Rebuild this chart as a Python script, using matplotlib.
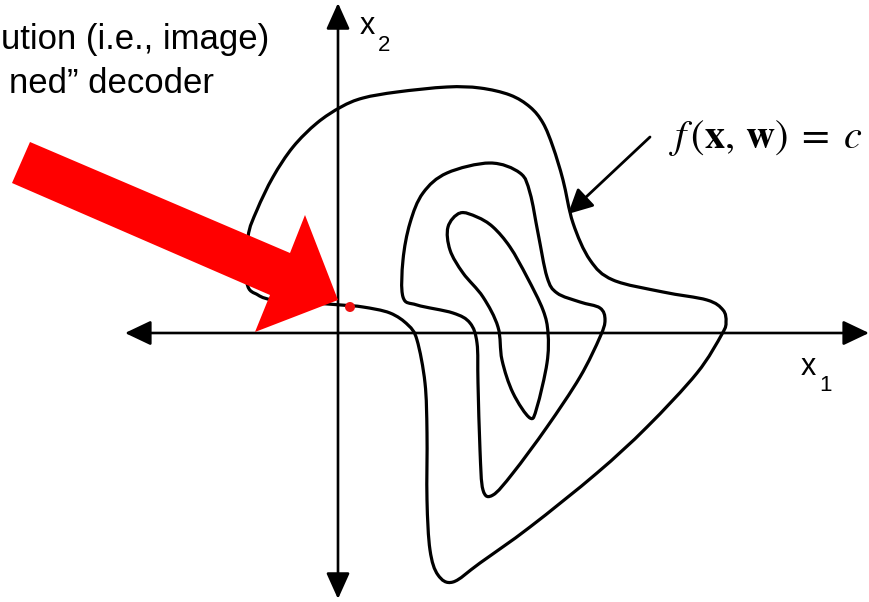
import numpy as np
import matplotlib
matplotlib.use("Agg")
import matplotlib.pyplot as plt
from matplotlib.path import Path
from matplotlib.patches import PathPatch, Polygon, Circle

# ---- diagram geometry (canvas pixel coordinates, y downward) ----
outer_x = [248, 257, 273, 293, 317, 341, 363, 397, 447, 480, 510, 530, 543, 553, 563, 573,
           590, 613, 663, 707, 723, 726, 722, 697, 647, 597, 530, 480, 453, 438, 430, 427,
           427, 425, 417, 408, 390, 363, 341, 300, 273, 258, 247]
outer_y = [237, 210, 177, 147, 123, 107, 98, 92, 87, 88, 95, 107, 123, 147, 180, 223,
           260, 280, 292, 300, 310, 322, 334, 373, 427, 473, 527, 563, 582, 575, 550, 500,
           433, 383, 340, 325, 313, 307, 305, 302, 300, 295, 283]

middle_x = [490, 520, 530, 538, 547, 557, 580, 600, 605, 600, 580, 547, 513, 493, 483, 480,
            478, 477, 470, 453, 417, 403, 403, 410, 423, 447]
middle_y = [163, 173, 193, 233, 277, 293, 302, 308, 320, 337, 377, 427, 473, 495, 490, 450,
            383, 343, 323, 313, 305, 297, 260, 223, 193, 173]

inner_x = [460, 477, 493, 510, 527, 543, 548, 547, 537, 530, 513, 502, 498, 483, 463, 450, 448]
inner_y = [213, 217, 227, 247, 277, 310, 333, 363, 407, 418, 393, 360, 327, 297, 273, 250, 227]

red_arrow_x = [30, 290, 305, 338, 255, 270, 12]
red_arrow_y = [142, 253, 215, 300, 332, 295, 183]

point_xy = (350, 307)

label_line1 = "ution (i.e., image)"
label_line2 = "ned\u201d decoder"
formula = r"$f\,(\mathbf{x},\,\mathbf{w})\;=\;c$"


def closed_smooth_path(xs, ys):
    P = np.column_stack([xs, ys]).astype(float)
    n = len(P)
    verts = [P[0]]
    codes = [Path.MOVETO]
    for i in range(n):
        p0, p1, p2, p3 = P[i - 1], P[i], P[(i + 1) % n], P[(i + 2) % n]
        c1 = p1 + (p2 - p0) / 6.0
        c2 = p2 - (p3 - p1) / 6.0
        verts += [c1, c2, p2]
        codes += [Path.CURVE4] * 3
    return Path(verts, codes)


fig = plt.figure(figsize=(8.7, 6.02), dpi=100)
ax = fig.add_axes([0, 0, 1, 1])
ax.set_xlim(0, 870)
ax.set_ylim(602, 0)
ax.axis("off")

# coordinate axes with arrowheads
ax.annotate("", xy=(869, 333), xytext=(125, 333),
            arrowprops=dict(arrowstyle="<|-|>,head_length=0.8,head_width=0.38",
                            mutation_scale=20, lw=1.9, color="black",
                            shrinkA=0, shrinkB=0))
ax.annotate("", xy=(338, 3), xytext=(338, 599),
            arrowprops=dict(arrowstyle="<|-|>,head_length=0.8,head_width=0.36",
                            mutation_scale=20, lw=1.9, color="black",
                            shrinkA=0, shrinkB=0))

# contours
for xs, ys in [(outer_x, outer_y), (middle_x, middle_y), (inner_x, inner_y)]:
    ax.add_patch(PathPatch(closed_smooth_path(xs, ys), fill=False,
                           lw=2.3, edgecolor="black", zorder=3))

# annotation arrow for f(x,w)=c
ax.annotate("", xy=(568, 214), xytext=(650, 137),
            arrowprops=dict(arrowstyle="-|>,head_length=0.75,head_width=0.38",
                            mutation_scale=20, lw=2.0, color="black",
                            shrinkA=0, shrinkB=0), zorder=4)

ax.text(766, 138, formula, fontsize=29, ha="center", va="center",
        math_fontfamily="stix", color="black")

# axis labels
ax.text(360, 34, "x", fontsize=22, family="Liberation Sans", ha="left",
        va="baseline", color="black")
ax.text(378, 51, "2", fontsize=16, family="Liberation Sans", ha="left",
        va="baseline", color="black")
ax.text(801, 375, "x", fontsize=22, family="Liberation Sans", ha="left",
        va="baseline", color="black")
ax.text(819, 391, "1", fontsize=16, family="Liberation Sans", ha="left",
        va="baseline", color="black")

# top-left text
ax.text(269, 49, label_line1, fontsize=25, family="Liberation Sans",
        ha="right", va="baseline", color="black")
ax.text(214, 93, label_line2, fontsize=25, family="Liberation Sans",
        ha="right", va="baseline", color="black")

# big red arrow and red point
ax.add_patch(Polygon(np.column_stack([red_arrow_x, red_arrow_y]), closed=True,
                     facecolor="#ff0000", edgecolor="none", zorder=6))
ax.add_patch(Circle(point_xy, 5, facecolor="#ee1111", edgecolor="none", zorder=7))

fig.savefig("out.png", dpi=100)
